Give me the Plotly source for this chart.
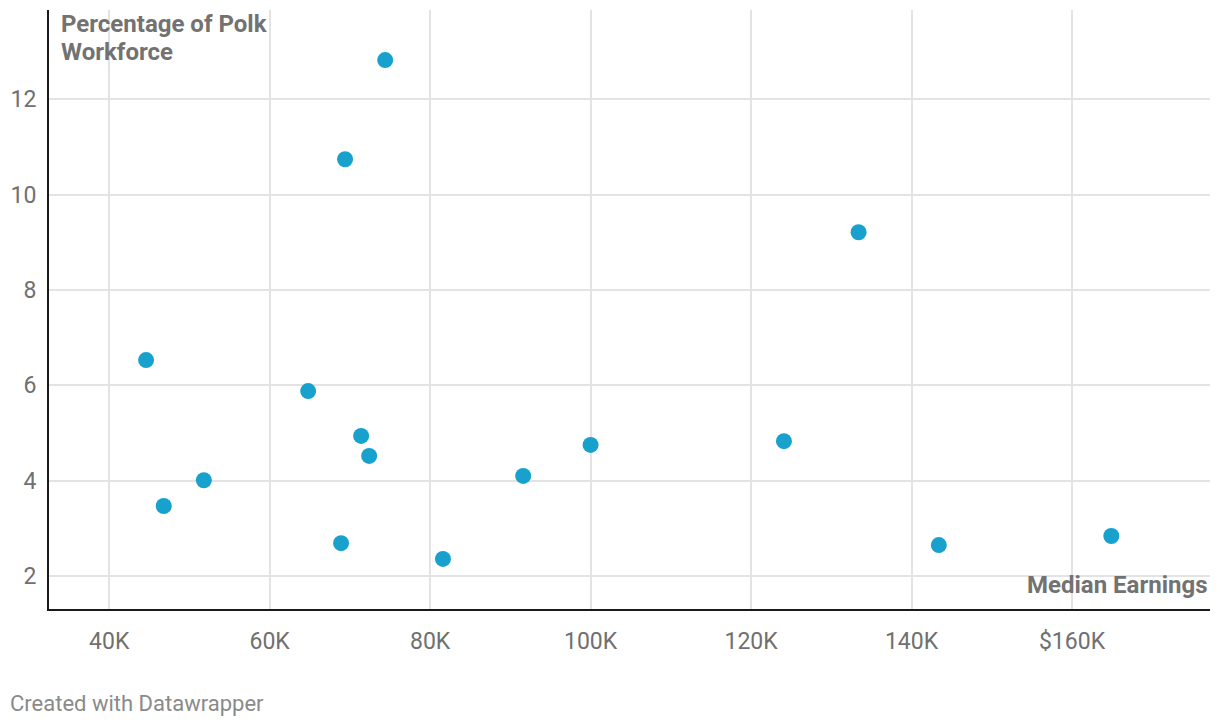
import plotly.graph_objects as go

median_earnings = [44.6, 46.8, 51.8, 64.8, 68.9, 69.4, 71.4, 72.4, 74.4, 81.6, 91.6, 100.0, 124.1, 133.4, 143.4, 164.9]
pct_workforce = [6.53, 3.47, 4.01, 5.88, 2.69, 10.74, 4.94, 4.52, 12.82, 2.36, 4.10, 4.75, 4.83, 9.21, 2.65, 2.84]
x_ticks = [40, 60, 80, 100, 120, 140, 160]
x_tick_labels = ["40K", "60K", "80K", "100K", "120K", "140K", "$160K"]
y_ticks = [2, 4, 6, 8, 10, 12]

fig = go.Figure()
fig.add_trace(go.Scatter(
    x=[v * 1000 for v in median_earnings], y=pct_workforce, mode="markers",
    marker=dict(size=16, color="#18a1cd", line=dict(width=0)),
    hoverinfo="x+y", showlegend=False,
))

fig.update_layout(
    width=1220, height=726,
    margin=dict(l=41, r=18, t=2, b=125, autoexpand=False),
    paper_bgcolor="white", plot_bgcolor="white",
    font=dict(family="Roboto", color="#707070", size=23),
    xaxis=dict(
        range=[32500, 177200], automargin=False,
        tickvals=[v * 1000 for v in x_ticks], ticktext=x_tick_labels,
        showgrid=True, gridcolor="#e3e3e3", gridwidth=1.5,
        zeroline=False, showline=True, linecolor="#1a1a1a", linewidth=2,
        ticks="", ticklabelstandoff=10,
        tickfont=dict(size=23, color="#707070"),
    ),
    yaxis=dict(
        range=[1.31, 13.87], automargin=False,
        tickvals=y_ticks,
        showgrid=True, gridcolor="#e3e3e3", gridwidth=1.5,
        zeroline=False, showline=True, linecolor="#1a1a1a", linewidth=2,
        ticks="", ticklabelstandoff=6,
        tickfont=dict(size=23, color="#707070"),
    ),
    annotations=[
        dict(text="<b>Percentage of Polk</b>", xref="paper", yref="paper",
             x=0.0, y=1.0, xanchor="left", yanchor="top", xshift=10, yshift=2, showarrow=False, align="left",
             font=dict(family="Roboto", size=24, color="#727272")),
        dict(text="<b>Workforce</b>", xref="paper", yref="paper",
             x=0.0, y=1.0, xanchor="left", yanchor="top", xshift=10, yshift=-26, showarrow=False, align="left",
             font=dict(family="Roboto", size=24, color="#727272")),
        dict(text="<b>Median Earnings</b>", xref="paper", yref="paper",
             x=1.0, y=0.0, xanchor="right", yanchor="bottom", yshift=8, showarrow=False, align="right",
             font=dict(family="Roboto", size=24, color="#727272")),
        dict(text="Created with Datawrapper", xref="paper", yref="paper",
             x=0.0, y=0.0, xanchor="left", yanchor="top", xshift=-41, yshift=-80, showarrow=False,
             font=dict(family="Roboto", size=22, color="#8a8a8a")),
    ],
)

fig.write_html("out.html")
